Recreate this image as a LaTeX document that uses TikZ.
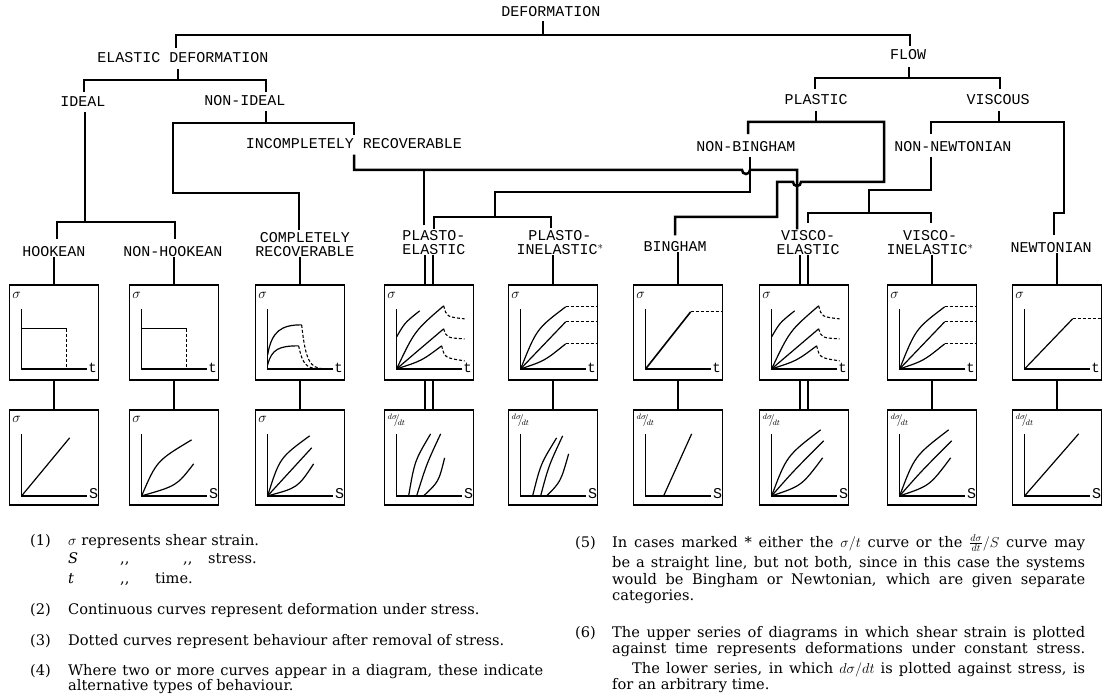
\documentclass[tikz,border=0pt]{standalone}
\usepackage{fontspec}
\setmainfont{DejaVu Serif}
\setmonofont{Liberation Mono}
\begin{document}
\begin{tikzpicture}[x=1pt,y=-1pt,
  lab/.style={font=\ttfamily\fontsize{15}{14}\selectfont,inner sep=1pt,align=center},
  tr/.style={line width=2.5pt,line cap=rect},
  box/.style={draw,line width=1.7pt,minimum width=89pt,minimum height=95pt,inner sep=0pt},
  ax/.style={line width=1.4pt},
  cv/.style={line width=1.2pt},
  dsh/.style={line width=1.1pt,dash pattern=on 3pt off 2pt},
  note/.style={font=\fontsize{14.6}{15}\selectfont,inner sep=0pt,anchor=base west}]
\useasboundingbox (0,0) rectangle (1112,698);
\fill[white] (0,0) rectangle (1112,698);
% labels
\node[lab] (def) at (551,12) {DEFORMATION};
\node[lab] (eld) at (183,58) {ELASTIC DEFORMATION};
\node[lab] (flow) at (908,55) {FLOW};
\node[lab] (ideal) at (83,102) {IDEAL};
\node[lab] (nid) at (245,101) {NON-IDEAL};
\node[lab] (pla) at (816,100) {PLASTIC};
\node[lab] (vis) at (998,100) {VISCOUS};
\node[lab] (inc) at (354,144) {INCOMPLETELY RECOVERABLE};
\node[lab] (nbg) at (746,147) {NON-BINGHAM};
\node[lab] (nnw) at (953,147) {NON-NEWTONIAN};
\node[lab] (hook) at (54,252) {HOOKEAN};
\node[lab] (nhook) at (173,252) {NON-HOOKEAN};
\node[lab] (crec) at (305,245) {COMPLETELY\\RECOVERABLE};
\node[lab] (ple) at (434,243) {PLASTO-\\ELASTIC};
\node[lab] (pli) at (560,243) {PLASTO-\\INELASTIC$^{*}$};
\node[lab] (bing) at (675,247) {BINGHAM};
\node[lab] (vie) at (808,243) {VISCO-\\ELASTIC};
\node[lab] (vii) at (930,243) {VISCO-\\INELASTIC$^{*}$};
\node[lab] (newt) at (1051,248) {NEWTONIAN};
% tree
\draw[tr] (543,22) -- (543,35);
\draw[tr] (176,47) |- (910,35) -- (910,45);
\draw[tr] (178,70) -- (178,80);
\draw[tr] (84,91) |- (266,80) -- (266,91);
\draw[tr] (85,113) -- (85,222);
\draw[tr] (57,238) |- (175,222) -- (175,238);
\draw[tr] (266,112) -- (266,123);
\draw[tr] (354,134) |- (173,123) -- (173,193) -| (299,229);
\draw[tr] (354,156) |- (742,170) arc[start angle=180,end angle=0,radius=4] -- (797,170) -- (797,228);
\draw[tr] (424,170) -- (424,224);
\draw[tr] (434,228) |- (551,217) -- (551,227);
\draw[tr] (495,217) -- (495,192) -| (750,158);
\draw[tr] (816,112) -- (816,122);
\draw[tr] (748,133) |- (884,122) -- (884,182) -- (801,182) arc[start angle=0,end angle=180,radius=4] -- (777,182) -- (777,217) -| (675,234);
\draw[tr] (909,68) -- (909,78);
\draw[tr] (815,88) |- (1000,78) -- (1000,88);
\draw[tr] (999,112) -- (999,122);
\draw[tr] (931,133) |- (1064,122) -- (1064,213) -| (1054,234);
\draw[tr] (931,158) -- (931,190) -| (869,213);
\draw[tr] (808,222) |- (931,213) -- (931,222);
% boxes
\foreach \n/\x in {1/54,2/174,3/300,4/429,5/553,6/678,7/804,8/932,9/1057}{
  \node[box] (u\n) at (\x,332.5) {};
  \node[box] (l\n) at (\x,457.5) {};
}
% stems
\foreach \a/\n in {hook/1,nhook/2,crec/3,pli/5,bing/6,vii/8,newt/9}{
  \draw[tr] (\a.south -| u\n.north) -- (u\n.north);
  \draw[tr] (u\n.south) -- (l\n.north);
}
\foreach \a/\n in {ple/4,vie/7}{
  \draw[tr] ([xshift=-4pt]\a.south -| u\n.north) -- ([xshift=-4pt]u\n.north);
  \draw[tr] ([xshift=4pt]\a.south -| u\n.north) -- ([xshift=4pt]u\n.north);
  \draw[tr] ([xshift=-4pt]u\n.south) -- ([xshift=-4pt]l\n.north);
  \draw[tr] ([xshift=4pt]u\n.south) -- ([xshift=4pt]l\n.north);
}
% axes
\foreach \n in {1,...,9}{
  \begin{scope}[shift={(u\n.south west)},shift={(13,-12)},yscale=-1]
    \draw[ax] (0,60) -- (0,0) -- (65,0);
    \node[font=\ttfamily\fontsize{14}{14}\selectfont,inner sep=0pt] at (71,1) {t};
    \node[inner sep=0pt,font=\Large] at (-5,73) {$\sigma$};
  \end{scope}
  \begin{scope}[shift={(l\n.south west)},shift={(13,-10)},yscale=-1]
    \draw[ax] (0,62) -- (0,0) -- (65,0);
    \node[font=\ttfamily\fontsize{15}{15}\selectfont,inner sep=0pt] at (72,2) {S};
  \end{scope}
}
\foreach \n in {1,2,3}{
  \node[inner sep=0pt,font=\Large] at ([xshift=8pt,yshift=-10pt]l\n.north west) {$\sigma$};}
\foreach \n in {4,...,9}{
  \node[inner sep=0pt,font=\large] at ([xshift=13pt,yshift=-11pt]l\n.north west) {$^{d\sigma}\!\!/\!_{dt}$};}
% upper curves
\begin{scope}[shift={(u1.south west)},shift={(13,-12)},yscale=-1]
  \draw[cv] (0,40) -- (45,40); \draw[dsh] (45,40) -- (45,0);
\end{scope}
\begin{scope}[shift={(u2.south west)},shift={(13,-12)},yscale=-1]
  \draw[cv] (0,40) -- (45,40); \draw[dsh] (45,40) -- (45,0);
\end{scope}
\begin{scope}[shift={(u3.south west)},shift={(13,-12)},yscale=-1]
  \draw[cv] (0,14) .. controls (4,38) and (14,44) .. (34,44);
  \draw[dsh] (34,44) .. controls (38,8) and (42,1) .. (56,0);
  \draw[cv] (0,4) .. controls (4,20) and (12,23) .. (31,23);
  \draw[dsh] (31,23) .. controls (35,4) and (39,1) .. (50,0);
\end{scope}
\foreach \n in {4,7}{
\begin{scope}[shift={(u\n.south west)},shift={(13,-12)},yscale=-1]
  \draw[cv] (0,32) .. controls (8,46) .. (23,58);
  \draw[cv] (0,0) .. controls (18,38) .. (47,63);
  \draw[dsh] (47,63) .. controls (50,52) .. (68,50);
  \draw[cv] (0,0) -- (47,40);
  \draw[dsh] (47,40) .. controls (50,31) .. (68,30);
  \draw[cv] (0,0) .. controls (25,8) .. (45,23);
  \draw[dsh] (45,23) .. controls (48,11) .. (68,8);
\end{scope}}
\foreach \n in {5,8}{
\begin{scope}[shift={(u\n.south west)},shift={(13,-12)},yscale=-1]
  \draw[cv] (0,0) .. controls (16,40) .. (45,62); \draw[dsh] (45,62) -- (77,62);
  \draw[cv] (0,0) .. controls (22,24) .. (45,47); \draw[dsh] (45,47) -- (77,47);
  \draw[cv] (0,0) .. controls (24,8) .. (45,25); \draw[dsh] (45,25) -- (77,25);
\end{scope}}
\begin{scope}[shift={(u6.south west)},shift={(13,-12)},yscale=-1]
  \draw[cv,line width=1.6pt] (0,0) -- (45,57); \draw[dsh] (45,57) -- (76,57);
\end{scope}
\begin{scope}[shift={(u9.south west)},shift={(13,-12)},yscale=-1]
  \draw[cv] (0,0) -- (48,50); \draw[dsh] (48,50) -- (77,50);
\end{scope}
% lower curves
\begin{scope}[shift={(l1.south west)},shift={(13,-10)},yscale=-1]
  \draw[cv] (0,0) -- (48,58);
\end{scope}
\begin{scope}[shift={(l2.south west)},shift={(13,-10)},yscale=-1]
  \draw[cv] (0,0) .. controls (15,35) .. (50,56);
  \draw[cv] (0,0) .. controls (35,10) .. (52,32);
\end{scope}
\begin{scope}[shift={(l3.south west)},shift={(13,-10)},yscale=-1]
  \draw[cv] (0,0) .. controls (12,38) .. (42,60);
  \draw[cv] (0,0) .. controls (22,24) .. (44,48);
  \draw[cv] (0,0) .. controls (30,8) .. (46,32);
\end{scope}
\begin{scope}[shift={(l4.south west)},shift={(13,-10)},yscale=-1]
  \draw[cv] (12,0) .. controls (18,35) .. (34,62);
  \draw[cv] (20,0) .. controls (30,32) .. (44,62);
  \draw[cv] (27,0) .. controls (42,14) .. (48,38);
\end{scope}
\begin{scope}[shift={(l5.south west)},shift={(13,-10)},yscale=-1]
  \draw[cv] (12,0) .. controls (20,32) .. (36,58);
  \draw[cv] (20,0) .. controls (28,30) .. (42,60);
  \draw[cv] (26,0) .. controls (40,14) .. (48,42);
\end{scope}
\begin{scope}[shift={(l6.south west)},shift={(13,-10)},yscale=-1]
  \draw[cv] (18,0) -- (46,62);
\end{scope}
\foreach \n in {7,8}{
\begin{scope}[shift={(l\n.south west)},shift={(13,-10)},yscale=-1]
  \draw[cv] (0,0) .. controls (15,40) .. (49,66);
  \draw[cv] (0,0) .. controls (22,25) .. (52,55);
  \draw[cv] (0,0) .. controls (30,10) .. (51,38);
\end{scope}}
\begin{scope}[shift={(l9.south west)},shift={(13,-10)},yscale=-1]
  \draw[cv] (0,0) -- (54,62);
\end{scope}
% notes
\node[note] (n1) at (30,545) {(1)};
\node[note] at (68,545) {$\sigma$ represents shear strain.};
\node[note] at (68,563) {\textit{S}};
\node[note] at (120,563) {{,}{,}};
\node[note] at (183,563) {{,}{,}};
\node[note] at (208,563) {stress.};
\node[note] at (68,583) {\textit{t}};
\node[note] at (120,583) {{,}{,}};
\node[note] at (155,583) {time.};
\node[note] at (30,614) {(2)};
\node[note] at (68,614) {Continuous curves represent deformation under stress.};
\node[note] at (30,645) {(3)};
\node[note] at (68,645) {Dotted curves represent behaviour after removal of stress.};
\node[note] at (30,675) {(4)};
\node[note] at (68,675) {\makebox[475pt][s]{Where two or more curves appear in a diagram, these indicate}};
\node[note] at (68,690) {alternative types of behaviour.};
\node[note] at (575,547) {(5)};
\node[note] at (612,547) {\makebox[473pt][s]{In cases marked * either the $\sigma/t$ curve or the $\frac{d\sigma}{dt}\Big/S$ curve may}};
\node[note] at (612,567) {\makebox[473pt][s]{be a straight line, but not both, since in this case the systems}};
\node[note] at (612,584) {\makebox[473pt][s]{would be Bingham or Newtonian, which are given separate}};
\node[note] at (612,600) {categories.};
\node[note] at (575,637) {(6)};
\node[note] at (612,637) {\makebox[473pt][s]{The upper series of diagrams in which shear strain is plotted}};
\node[note] at (612,653) {\makebox[473pt][s]{against time represents deformations under constant stress.}};
\node[note] at (632,673) {\makebox[453pt][s]{The lower series, in which $d\sigma/dt$ is plotted against stress, is}};
\node[note] at (612,689) {for an arbitrary time.};
\end{tikzpicture}
\end{document}
